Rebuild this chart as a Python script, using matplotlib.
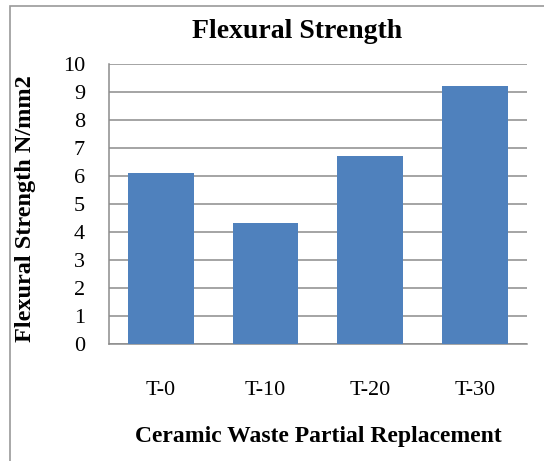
import matplotlib
matplotlib.use("Agg")
from matplotlib import pyplot as plt
from matplotlib.patches import Rectangle

# data
mixes = ["T-0", "T-10", "T-20", "T-30"]
strength = [6.1, 4.3, 6.7, 9.2]

plt.rcParams['font.family'] = ['Liberation Serif', 'DejaVu Serif']

fig = plt.figure(figsize=(5.44, 4.61), dpi=100)
# outer chart border (cut off at right and bottom like the original)
fig.patches.append(Rectangle((9.5 / 544, -0.05), 1.2, 1 - 6 / 461 + 0.05,
                             transform=fig.transFigure, fill=False,
                             edgecolor="#9a9a9a", linewidth=1.2))

ax = fig.add_axes([108.6 / 544, 117.3 / 461, 418.4 / 544, 280 / 461])
ax.bar(range(len(mixes)), strength, width=0.63, color="#4f81bd", zorder=3)

ax.set_xlim(-0.5, 3.5)
ax.set_ylim(0, 10)
ax.set_yticks(range(0, 11))
ax.set_xticks(range(len(mixes)))
ax.set_xticklabels(mixes)
ax.tick_params(axis="x", length=0, pad=27, labelsize=16)
ax.tick_params(axis="y", length=0, labelsize=16, pad=17)
ax.grid(axis="y", color="#8c8c8c", linewidth=1.1, zorder=0)

for s in ["top", "right"]:
    ax.spines[s].set_visible(False)
for s in ["left", "bottom"]:
    ax.spines[s].set_color("#8c8c8c")
    ax.spines[s].set_linewidth(1.1)

fig.text(297 / 544, 1 - 31 / 461, "Flexural Strength", ha="center", va="center",
         fontsize=20, fontweight="bold")
fig.text(318 / 544, 1 - 436 / 461, "Ceramic Waste Partial Replacement", ha="center",
         va="center", fontsize=17, fontweight="bold")
fig.text(26 / 544, 1 - 209 / 461, "Flexural Strength N/mm2", ha="center", va="center",
         rotation=90, fontsize=17.5, fontweight="bold")

fig.savefig("out.png", dpi=100)
